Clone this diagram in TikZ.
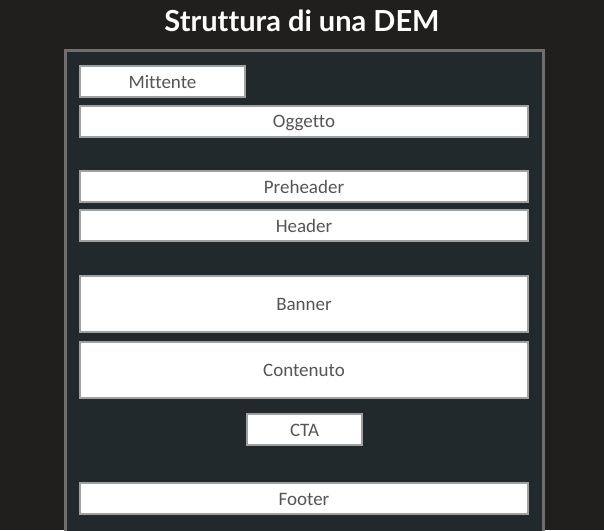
\documentclass[tikz,border=0pt]{standalone}
\usepackage{fontspec}
\setmainfont[Ligatures=NoCommon]{Carlito}
\newfontfamily\titlefont[Ligatures=NoCommon]{Lato}
\definecolor{outerbg}{RGB}{32,31,29}
\definecolor{panelbg}{RGB}{34,41,44}
\definecolor{panelline}{RGB}{110,110,110}
\definecolor{boxline}{RGB}{160,160,160}
\definecolor{boxtext}{RGB}{85,85,85}
\begin{document}
\begin{tikzpicture}[x=1pt,y=-1pt,
  blockbox/.style={draw=boxline, fill=white, line width=2pt, inner sep=0pt,
    text=boxtext, font=\fontsize{19}{22}\selectfont, text height=14.2pt, text depth=1pt},
  widebox/.style={blockbox, minimum width=448pt, minimum height=31pt},
  tallbox/.style={blockbox, minimum width=448pt, minimum height=56pt}]
\useasboundingbox (0,0) rectangle (604,530);
\fill[outerbg] (0,0) rectangle (604,530);
\draw[panelline, fill=panelbg, line width=3pt] (65,545) -- (65,50) -- (543,50) -- (543,545);
\node[text=white, font=\titlefont\bfseries\fontsize{29}{32}\selectfont] (title) at (302,21) {Struttura di una DEM};
\node[blockbox, minimum width=165pt, minimum height=31pt] (mittente) at (162.5,81.5) {Mittente};
\node[widebox] (oggetto) at (304,121) {Oggetto};
\node[widebox] (preheader) at (304,186.5) {Preheader};
\node[widebox] (header) at (304,225.5) {Header};
\node[tallbox] (banner) at (304,304) {Banner};
\node[tallbox] (contenuto) at (304,370) {Contenuto};
\node[blockbox, minimum width=115pt, minimum height=31pt] (cta) at (304.5,429.5) {CTA};
\node[widebox] (footer) at (304,498.5) {Footer};
\end{tikzpicture}
\end{document}
